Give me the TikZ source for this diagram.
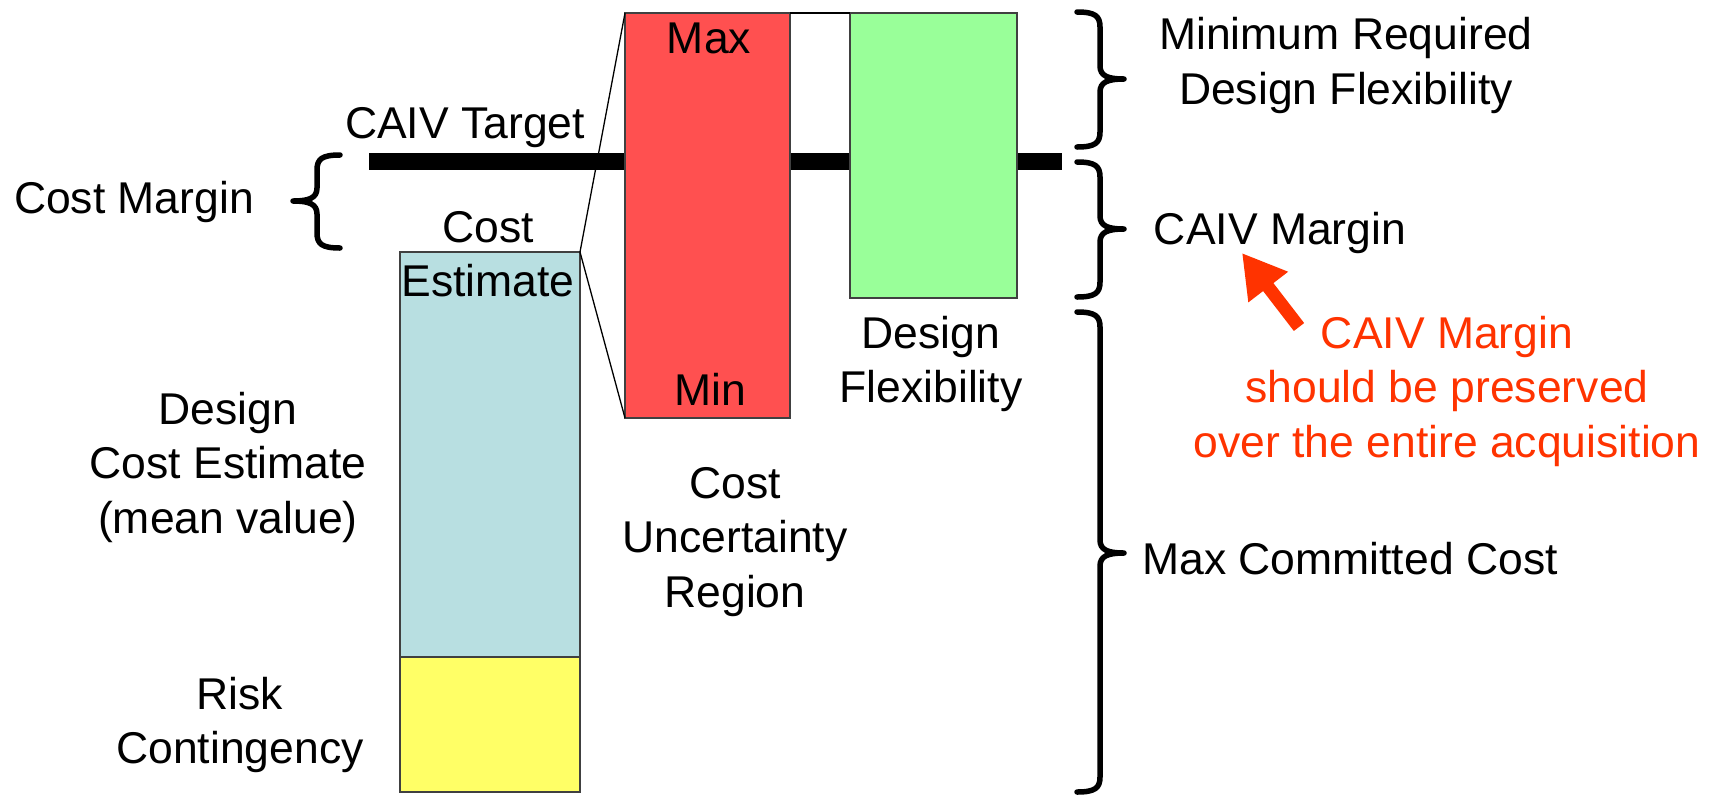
\documentclass[tikz,border=0pt]{standalone}
\usepackage{fontspec}
\setmainfont{Liberation Sans}
\usetikzlibrary{arrows.meta}
\definecolor{redbox}{HTML}{FF5050}
\definecolor{greenbox}{HTML}{99FF99}
\definecolor{bluebox}{HTML}{B8DFE1}
\definecolor{yellowbox}{HTML}{FFFF66}
\definecolor{alert}{HTML}{FF3300}
% #1 x of brace ends, #2 top y, #3 bottom y, #4 tip y, #5 direction (1 = tip right, -1 = tip left)
\newcommand\CurlyBr[5]{%
  \draw[bracestyle] (#1,#2) .. controls ({#1+(#5)*18},#2) and ({#1+(#5)*23},#2+4) .. ({#1+(#5)*23},#2+15)
    -- ({#1+(#5)*23},#4-13) .. controls ({#1+(#5)*23},#4-3) and ({#1+(#5)*31},#4) .. ({#1+(#5)*47},#4)
    .. controls ({#1+(#5)*31},#4) and ({#1+(#5)*23},#4+3) .. ({#1+(#5)*23},#4+13)
    -- ({#1+(#5)*23},#3-15) .. controls ({#1+(#5)*23},#3-4) and ({#1+(#5)*18},#3) .. (#1,#3);}
\begin{document}
\begin{tikzpicture}[x=1pt,y=-1pt,
  every node/.style={font=\fontsize{44.5}{54.5}\selectfont, inner sep=0pt, outer sep=0pt},
  bar/.style={draw=black!75, line width=1.2pt},
  thinline/.style={draw=black, line width=1.3pt},
  bracestyle/.style={draw=black, line width=5.5pt, line cap=round, line join=round},
  label/.style={align=center},
  redlabel/.style={align=center, text=alert}]
\useasboundingbox (0,0) rectangle (1721,796);

% thick CAIV target line
\coordinate (tl) at (369,161.5);
\coordinate (tr) at (1062,161.5);
\draw[line width=17pt] (tl) -- (tr);

% boxes
\node[bar, fill=bluebox, minimum width=180pt, minimum height=405pt] (blue) at (490,454.5) {};
\node[bar, fill=yellowbox, minimum width=180pt, minimum height=135pt] (yellow) at (490,724.5) {};
\node[bar, fill=redbox, minimum width=165pt, minimum height=405pt] (red) at (707.5,215.5) {};
\node[bar, fill=greenbox, minimum width=167pt, minimum height=285pt] (green) at (933.5,155.5) {};

% thin lines
\draw[thinline] (blue.north east) -- (red.north west);
\draw[thinline] (blue.north east) -- (red.south west);
\draw[thinline] (red.north east) -- (green.north west);

% braces
\CurlyBr{340}{155}{248}{201}{-1}
\CurlyBr{1077}{12}{147}{79}{1}
\CurlyBr{1077}{162}{297}{229}{1}
\CurlyBr{1077}{312}{792}{553}{1}

% texts
\node[anchor=base] (costmargin) at (134,213) {Cost Margin};
\node[anchor=base] (caivtarget) at (465,138) {CAIV Target};
\node[label] (costest) at (488,254) {Cost\\Estimate};
\node[anchor=base] (max) at (709,53) {Max};
\node[anchor=base] (min) at (710,405) {Min};
\node[label] (designflex) at (931,364) {Design\\Flexibility};
\node[label] (uncert) at (735,541.6) {Cost\\Uncertainty\\Region};
\node[label] (designcost) at (228,467) {Design\\Cost Estimate\\(mean value)};
\node[label] (risk) at (240,725) {Risk\\Contingency};
\node[label] (minreq) at (1346,65.7) {Minimum Required\\Design Flexibility};
\node[anchor=base] (caivmargin) at (1280,244) {CAIV Margin};
\node[anchor=base] (maxcommitted) at (1350,574) {Max Committed Cost};
\node[redlabel] (preserve) at (1447,391) {CAIV Margin\\should be preserved\\over the entire acquisition};

% red arrow
\coordinate (arrtail) at (1299,327);
\coordinate (arrtip) at (1242,253);
\draw[alert, line width=13pt, -{Triangle[length=43pt,width=47pt]}] (arrtail) -- (arrtip);
\end{tikzpicture}
\end{document}
